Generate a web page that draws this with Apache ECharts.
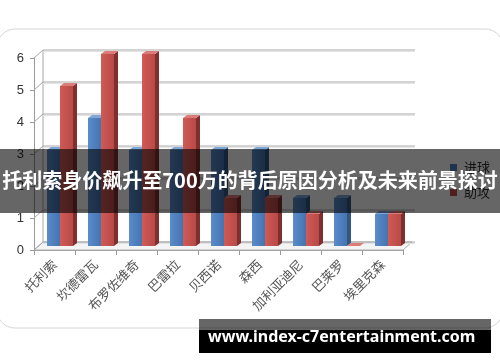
<!DOCTYPE html>
<html>
<head>
<meta charset="utf-8">
<script src="https://cdn.jsdelivr.net/npm/echarts@6/dist/echarts.min.js"></script>
<style>
html,body{margin:0;padding:0;background:#fff;}
#c{width:500px;height:362px;}
</style>
</head>
<body>
<div id="c"></div>
<script>
var categories = ['托利索','坎德雷瓦','布罗佐维奇','巴雷拉','贝西诺','森西','加利亚迪尼','巴莱罗','埃里克森'];
var goals = [3, 4, 3, 3, 3, 3, 1.5, 1.5, 1];
var assists = [5, 6, 6, 4, 1.5, 1.5, 1, 0, 1];
var yTicks = [0, 1, 2, 3, 4, 5, 6];
var seriesNames = ['进球', '助攻'];
var titleText = '托利索身价飙升至700万的背后原因分析及未来前景探讨';
var watermark = 'www.index-c7entertainment.com';

var chart = echarts.init(document.getElementById('c'), null, {renderer: 'canvas'});

function barRender(left, front, side, topc) {
  return function (params, api) {
    var i = api.value(0), v = api.value(1);
    var base = api.coord([i, 0]);
    var top = api.coord([i, v]);
    var w = 13, dx = 4, dy = 3;
    var x = left ? base[0] - w : base[0];
    var y0 = base[1], y1 = top[1];
    return {
      type: 'group',
      children: [
        {type: 'polygon', shape: {points: [[x + w, y1], [x + w + dx, y1 - dy], [x + w + dx, y0 - dy], [x + w, y0]]}, style: {fill: side}},
        {type: 'rect', shape: {x: x, y: y1, width: w, height: y0 - y1}, style: {fill: front}},
        {type: 'polygon', shape: {points: [[x, y1], [x + dx, y1 - dy], [x + w + dx, y1 - dy], [x + w, y1]]}, style: {fill: topc}}
      ]
    };
  };
}

var D = [9, -8];
function wallRender(params, api) {
  var v = api.value(1);
  var p = api.coord([0, v]);
  var band = api.size([1, 0])[0];
  var x0 = p[0] - band / 2;
  var x1 = x0 + band * categories.length;
  var y = p[1];
  var lineStyle = {stroke: '#a8a8a8', lineWidth: 1};
  var children = [
    {type: 'line', shape: {x1: x0, y1: y, x2: x0 + D[0], y2: y + D[1]}, style: lineStyle},
    {type: 'line', shape: {x1: x0 + D[0], y1: y + D[1], x2: x1 + D[0] + 3, y2: y + D[1]}, style: lineStyle},
    {type: 'line', shape: {x1: x0 + D[0], y1: y + D[1] + 1.5, x2: x1 + D[0] + 3, y2: y + D[1] + 1.5}, style: {stroke: '#e4e4e4', lineWidth: 1}}
  ];
  if (v === 0) {
    var pt = api.coord([0, yTicks[yTicks.length - 1]]);
    children.unshift({type: 'polygon', shape: {points: [[x0, y], [x1, y], [x1 + D[0], y + D[1]], [x0 + D[0], y + D[1]]]}, style: {fill: '#f4f4f4', stroke: '#b0b0b0', lineWidth: 1}});
    children.push({type: 'line', shape: {x1: x0 + D[0], y1: y + D[1], x2: x0 + D[0], y2: pt[1] + D[1]}, style: lineStyle});
  }
  return {type: 'group', children: children};
}

var option = {
  backgroundColor: '#fff',
  animation: false,
  grid: [
    {left: 39.5, right: 91.5, top: 54, bottom: 116},
    {left: 34, right: 97, top: 58, bottom: 112}
  ],
  xAxis: [
    {type: 'category', data: categories, gridIndex: 0, show: false},
    {type: 'category', data: categories, gridIndex: 1,
      axisLine: {show: true, lineStyle: {color: '#9a9a9a'}},
      axisTick: {show: true, length: 5, lineStyle: {color: '#9a9a9a'}},
      axisLabel: {rotate: 45, margin: 12, fontSize: 13, color: '#555', fontFamily: 'Noto Sans CJK SC', interval: 0}
    }
  ],
  yAxis: [
    {type: 'value', gridIndex: 0, min: 0, max: 6, interval: 1, show: false},
    {type: 'value', gridIndex: 1, min: 0, max: 6, interval: 1,
      axisLine: {show: true, lineStyle: {color: '#9a9a9a'}},
      axisTick: {show: true, length: 4, lineStyle: {color: '#9a9a9a'}},
      splitLine: {show: false},
      axisLabel: {fontSize: 13, color: '#333', margin: 10, fontFamily: 'Liberation Sans'}
    }
  ],
  legend: {
    orient: 'vertical', left: 445, top: 156, itemWidth: 7, itemHeight: 7, itemGap: 12,
    textStyle: {fontSize: 13, color: '#333', fontFamily: 'Noto Sans CJK SC', padding: [0, 0, 0, 2]},
    data: [{name: seriesNames[0], icon: 'rect'}, {name: seriesNames[1], icon: 'rect'}]
  },
  series: [
    {type: 'custom', name: 'walls', xAxisIndex: 1, yAxisIndex: 1, z: 1, silent: true,
      data: yTicks.map(function (v) { return [0, v]; }), encode: {x: 0, y: 1}, renderItem: wallRender},
    {type: 'custom', name: seriesNames[0], xAxisIndex: 0, yAxisIndex: 0, z: 3,
      itemStyle: {color: '#4F81BD'},
      data: goals.map(function (v, i) { return [i, v]; }), encode: {x: 0, y: 1},
      renderItem: barRender(true,
        {type: 'linear', x: 0, y: 0, x2: 1, y2: 0, colorStops: [{offset: 0, color: '#5a8ccb'}, {offset: 1, color: '#4574b0'}]},
        '#34577f', '#7ea6d8')},
    {type: 'custom', name: seriesNames[1], xAxisIndex: 0, yAxisIndex: 0, z: 4,
      itemStyle: {color: '#C0504D'},
      data: assists.map(function (v, i) { return [i, v]; }), encode: {x: 0, y: 1},
      renderItem: barRender(false,
        {type: 'linear', x: 0, y: 0, x2: 1, y2: 0, colorStops: [{offset: 0, color: '#d05a56'}, {offset: 1, color: '#b84a47'}]},
        '#7f2f2d', '#dc7c79')}
  ],
  graphic: [
    {type: 'rect', z: 0, silent: true, shape: {x: -3, y: 29, width: 506, height: 299, r: 18}, style: {fill: null, stroke: '#d6d6d6', lineWidth: 1}},
    {type: 'rect', z: 100, silent: true, shape: {x: 0, y: 149, width: 500, height: 64}, style: {fill: 'rgba(0,0,0,0.6)'}},
    {type: 'text', z: 101, silent: true, left: 'center', top: 170, style: {text: titleText, fill: '#fff', font: 'bold 20px "Noto Sans CJK SC"'}},
    {type: 'rect', z: 100, silent: true, shape: {x: 199, y: 319, width: 292, height: 11}, style: {fill: 'rgba(0,0,0,0.6)'}},
    {type: 'rect', z: 100, silent: true, shape: {x: 199, y: 330, width: 292, height: 23}, style: {fill: '#000'}},
    {type: 'text', z: 101, silent: true, x: 208, y: 329, style: {text: watermark, fill: '#fff', font: 'bold 16px "Noto Sans"'}}
  ]
};
chart.setOption(option);
</script>
</body>
</html>
